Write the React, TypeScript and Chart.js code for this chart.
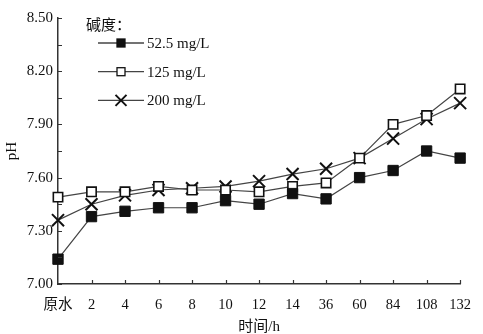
import React, { useEffect, useRef } from 'react';
import { Chart, registerables } from 'chart.js';

Chart.register(...registerables);

// ---- data ----
const categories = ['原水', '2', '4', '6', '8', '10', '12', '14', '36', '60', '84', '108', '132'];
const alk52 = [7.14, 7.38, 7.41, 7.43, 7.43, 7.47, 7.45, 7.51, 7.48, 7.60, 7.64, 7.75, 7.71];
const alk125 = [7.49, 7.52, 7.52, 7.55, 7.53, 7.53, 7.52, 7.55, 7.57, 7.71, 7.90, 7.95, 8.10];
const alk200 = [7.36, 7.45, 7.50, 7.53, 7.54, 7.55, 7.58, 7.62, 7.65, 7.71, 7.82, 7.93, 8.02];
const seriesLabels = ['52.5 mg/L', '125 mg/L', '200 mg/L'];
const yTicks = [7.0, 7.3, 7.6, 7.9, 8.2, 8.5];
const legendTitle = '碱度：';
const xTitle = '时间/h';
const yTitle = 'pH';

const FONT = '"Liberation Serif", "Times New Roman", "Noto Sans CJK SC", serif';
const INK = '#111';
const AXIS = '#333';

const inwardTicks = {
  id: 'inwardTicks',
  afterDraw(chart: any) {
    const { ctx, chartArea, scales } = chart;
    const ys = scales.y;
    const xs = scales.x;
    ctx.save();
    ctx.strokeStyle = AXIS;
    ctx.lineWidth = 1.2;
    ctx.beginPath();
    const vals: number[] = [];
    for (let i = 0; i < yTicks.length; i++) {
      vals.push(yTicks[i]);
      if (i < yTicks.length - 1) vals.push((yTicks[i] + yTicks[i + 1]) / 2);
    }
    vals.forEach((v) => {
      const py = Math.round(ys.getPixelForValue(v)) + 0.5;
      ctx.moveTo(chartArea.left, py);
      ctx.lineTo(chartArea.left + 4, py);
    });
    for (let i = 1; i < categories.length; i++) {
      const px = Math.round(xs.getPixelForValue(i)) + 0.5;
      ctx.moveTo(px, chartArea.bottom);
      ctx.lineTo(px, chartArea.bottom - 4);
    }
    ctx.stroke();
    ctx.restore();
  },
};

const customLegend = {
  id: 'customLegend',
  afterDraw(chart: any) {
    const ctx = chart.ctx;
    ctx.save();
    ctx.font = `15px ${FONT}`;
    ctx.fillStyle = INK;
    ctx.textBaseline = 'middle';
    ctx.textAlign = 'left';
    ctx.fillText(legendTitle, 86, 26);
    chart.data.datasets.forEach((ds: any, i: number) => {
      const yy = 43 + i * 28.7;
      ctx.strokeStyle = ds.borderColor;
      ctx.lineWidth = 1.3;
      ctx.beginPath();
      ctx.moveTo(98, yy);
      ctx.lineTo(144, yy);
      ctx.stroke();
      const cx = 121;
      if (ds.pointStyle === 'rect') {
        ctx.fillStyle = ds.pointBackgroundColor;
        ctx.fillRect(cx - 4, yy - 4, 8, 8);
        ctx.strokeStyle = ds.pointBorderColor;
        ctx.lineWidth = 1.3;
        ctx.strokeRect(cx - 4, yy - 4, 8, 8);
      } else {
        ctx.strokeStyle = ds.pointBorderColor;
        ctx.lineWidth = 2;
        ctx.beginPath();
        ctx.moveTo(cx - 5.5, yy - 5.5);
        ctx.lineTo(cx + 5.5, yy + 5.5);
        ctx.moveTo(cx - 5.5, yy + 5.5);
        ctx.lineTo(cx + 5.5, yy - 5.5);
        ctx.stroke();
      }
      ctx.fillStyle = INK;
      ctx.fillText(seriesLabels[i], 147, yy + 1);
    });
    ctx.restore();
  },
};

export default function App() {
  const ref = useRef<HTMLCanvasElement>(null);

  useEffect(() => {
    if (!ref.current) return;
    const common = {
      borderColor: '#444',
      borderWidth: 1.2,
      tension: 0,
      clip: false as any,
      pointBorderColor: '#111',
    };
    const chart = new Chart(ref.current, {
      type: 'line',
      data: {
        labels: categories,
        datasets: [
          {
            ...common,
            label: seriesLabels[0],
            data: alk52,
            pointStyle: 'rect',
            pointRadius: 7.3,
            pointBackgroundColor: '#111',
            pointBorderWidth: 1,
          },
          {
            ...common,
            label: seriesLabels[1],
            data: alk125,
            pointStyle: 'rect',
            pointRadius: 6.6,
            pointBackgroundColor: '#fff',
            pointBorderWidth: 1.6,
          },
          {
            ...common,
            label: seriesLabels[2],
            data: alk200,
            pointStyle: 'crossRot',
            pointRadius: 8.5,
            pointBackgroundColor: '#111',
            pointBorderWidth: 2,
          },
        ] as any,
      },
      options: {
        animation: false,
        responsive: false,
        devicePixelRatio: 1,
        layout: { padding: { left: 0, right: 15, top: 18, bottom: 0 } },
        plugins: {
          legend: { display: false },
          tooltip: { enabled: false },
        },
        scales: {
          x: {
            type: 'category',
            offset: false,
            grid: { display: true, drawOnChartArea: false, drawTicks: false },
            border: { display: true, color: AXIS, width: 1.5 },
            ticks: {
              color: INK,
              font: { family: FONT, size: 14.5 },
              padding: 12,
              maxRotation: 0,
              autoSkip: false,
            },
            title: {
              display: true,
              text: xTitle,
              color: INK,
              font: { family: FONT, size: 15, lineHeight: 1 },
              padding: { top: 0, bottom: -1 },
            },
            afterFit: (s: any) => {
              s.height = 50;
            },
          },
          y: {
            type: 'linear',
            min: 7.0,
            max: 8.5,
            grid: { display: true, drawOnChartArea: false, drawTicks: false },
            border: { display: true, color: AXIS, width: 1.5 },
            afterBuildTicks: (s: any) => {
              s.ticks = yTicks.map((v) => ({ value: v }));
            },
            ticks: {
              color: INK,
              font: { family: FONT, size: 15 },
              padding: 5,
              callback: (v: any) => Number(v).toFixed(2),
            },
            title: {
              display: true,
              text: yTitle,
              color: INK,
              font: { family: FONT, size: 15, lineHeight: 1 },
              padding: { top: 5, bottom: 0 },
            },
            afterFit: (s: any) => {
              s.width = 58;
            },
          },
        },
      } as any,
      plugins: [inwardTicks, customLegend],
    });
    return () => chart.destroy();
  }, []);

  return (
    <div style={{ position: 'fixed', left: 0, top: 0, width: 483, height: 334, background: '#fff' }}>
      <canvas ref={ref} width={483} height={334} style={{ width: 483, height: 334, display: 'block' }} />
    </div>
  );
}
